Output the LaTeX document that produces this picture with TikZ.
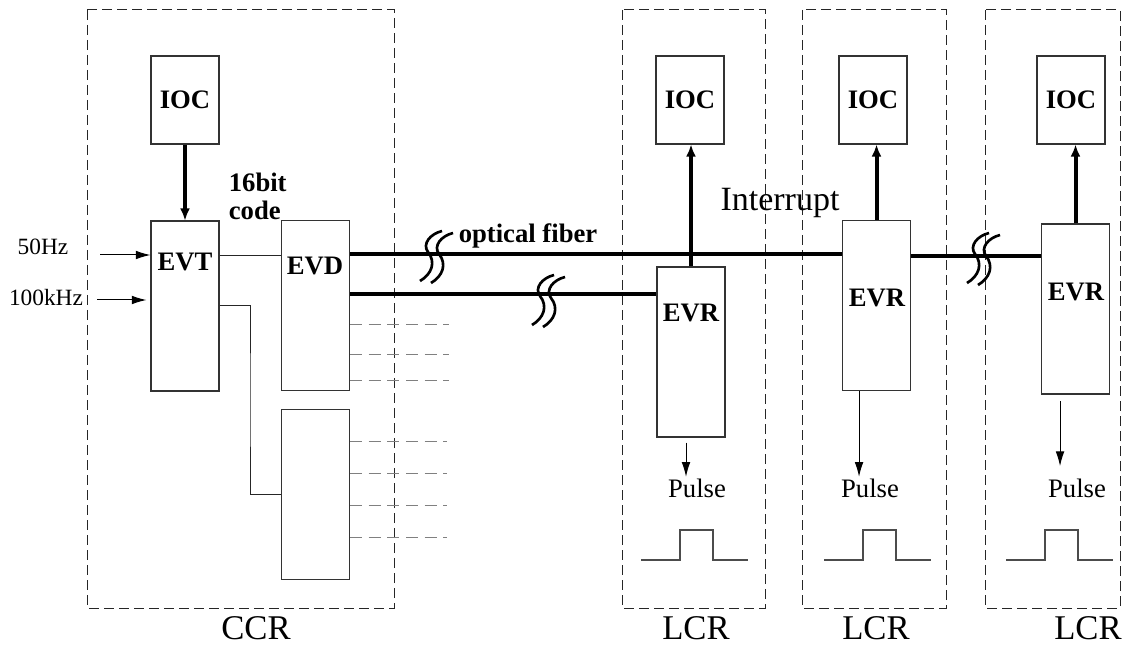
\documentclass[tikz,border=0pt]{standalone}
\usepackage{fontspec}
\setmainfont{Liberation Serif}
\usetikzlibrary{arrows.meta}

\tikzset{every picture/.style={line width=0.75pt}}
\tikzset{
  unit/.style={draw=black!80, line width=0.8pt, inner sep=0pt, minimum width=51pt, font=\fontsize{20}{21}\selectfont\bfseries},
  lbl/.style={inner sep=1pt, font=\fontsize{20}{21}\selectfont\bfseries},
  txt/.style={inner sep=1pt, font=\fontsize{20}{21}\selectfont},
  room/.style={draw=black!85, line width=0.75pt, dash pattern=on 7.5pt off 3.75pt},
  roomlbl/.style={inner sep=1pt, font=\fontsize{26}{26}\selectfont},
  bus/.style={line width=3pt},
  busarrow/.style={line width=3pt, -{Latex[length=9pt,width=7.5pt]}},
  sig/.style={line width=0.75pt, -{Latex[length=11pt,width=6.5pt]}},
  wire/.style={draw=black!85, line width=0.75pt},
  stub/.style={draw=black!50, line width=0.75pt, dash pattern=on 9pt off 5pt},
  wave/.style={draw=black!70, line width=0.9pt},
  brk/.pic={
    \draw[line width=2pt] (-16,-27) .. controls (-4,-20) and (0,-8) .. (-8,2) .. controls (-14,10) and (-6,20) .. (6,23);
    \draw[line width=2pt] (-5,-29) .. controls (7,-22) and (11,-10) .. (3,0) .. controls (-3,8) and (5,18) .. (17,21);
  }
}

\begin{document}
\begin{tikzpicture}[x=0.75pt,y=0.75pt,yscale=-1,xscale=1]
\useasboundingbox (0,0) rectangle (1132,645);

% rooms
\draw[room] (87,10) rectangle (394,608);
\draw[room] (622,10) rectangle (765,608);
\draw[room] (802,10) rectangle (946,608);
\draw[room] (985,10) rectangle (1120,608);

\node[roomlbl] (ccr) at (256,628) {CCR};
\node[roomlbl] (lcr1) at (696,628) {LCR};
\node[roomlbl] (lcr2) at (876,628) {LCR};
\node[roomlbl] (lcr3) at (1088,628) {LCR};

% central units
\node[unit, minimum height=66pt] (ioc0) at (185,100) {IOC};
\node[unit, minimum height=127.5pt] (evt) at (185,306) {};
\node[unit, minimum height=127.5pt] (evd) at (315.5,305.5) {};
\node[unit, minimum height=128pt] (sub) at (315.5,494.5) {};
\node[lbl] (evtl) at (185,262) {EVT};
\node[lbl] (evdl) at (315,266) {EVD};
\node[lbl, align=left, anchor=west] (codel) at (227,196) {16bit\\code};

% local units
\node[unit, minimum height=66pt] (ioc1) at (690,100) {IOC};
\node[unit, minimum height=127.5pt] (evr1) at (691,352) {};
\node[lbl] (evr1l) at (691,313) {EVR};
\node[unit, minimum height=66pt] (ioc2) at (873,100) {IOC};
\node[unit, minimum height=127.5pt] (evr2) at (876.5,305.5) {};
\node[lbl] (evr2l) at (877,298) {EVR};
\node[unit, minimum height=66pt] (ioc3) at (1071,100) {IOC};
\node[unit, minimum height=127.5pt] (evr3) at (1075.5,309) {};
\node[lbl] (evr3l) at (1076,292) {EVR};

% inputs
\node[txt, font=\fontsize{17.5}{18}\selectfont] (hz50) at (43,247) {50Hz};
\node[txt, font=\fontsize{17.5}{18}\selectfont] (hz100) at (46,298) {100kHz};
\coordinate (in1) at (100,255);
\coordinate (in2) at (97,300);
\draw[sig] (in1) -- (in1 -| evt.west);
\draw[sig, shorten >=3pt] (in2) -- (in2 -| evt.west);

% central links
\draw[busarrow] (ioc0.south) -- (evt.north);
\draw[wire] ([yshift=-37.5pt]evt.east) -- ([yshift=-37.5pt]evt.east -| evd.west);
\coordinate (bend) at (250,400);
\draw[wire] (evt.east) -| (bend) |- (sub.west);
\foreach \dy in {14.6,37.1,56.6}
  \draw[stub] ([yshift=\dy pt]evd.east) -- ++(99,0);
\foreach \dy in {-39.4,-15.4,7.9,31.9}
  \draw[stub] ([yshift=\dy pt]sub.east) -- ++(97,0);

% fibers
\coordinate (f1) at ([yshift=-38.6pt]evd.east);
\coordinate (f2) at ([yshift=-8.6pt]evd.east);
\coordinate (f3) at ([yshift=-37.1pt]evr2.east);
\draw[bus] (f1) -- (f1 -| evr2.west);
\draw[bus] (f2) -- (f2 -| evr1.west);
\draw[bus] (f3) -- (f3 -| evr3.west);
\pic at (436,254) {brk};
\pic at (548,298) {brk};
\pic at (983,256) {brk};
\node[lbl] (fiberl) at (528,236) {optical fiber};
\node[txt, font=\fontsize{25.5}{26}\selectfont] (intl) at (780,203) {Interrupt};

% interrupts
\draw[busarrow] (evr1.north) -- (evr1.north |- ioc1.south);
\draw[busarrow] (evr2.north) -- (evr2.north |- ioc2.south);
\draw[busarrow] (evr3.north) -- (evr3.north |- ioc3.south);

% pulses
\node[txt] (pulse1) at (697,488) {Pulse};
\node[txt] (pulse2) at (870,488) {Pulse};
\node[txt] (pulse3) at (1077,488) {Pulse};
\coordinate (p1) at ([xshift=-3.75pt,yshift=3.75pt]evr1.south);
\coordinate (p2) at ([xshift=-13.1pt]evr2.south);
\coordinate (p3) at ([xshift=-11.6pt,yshift=5pt]evr3.south);
\draw[sig] (p1) -- (p1 |- pulse1.north);
\draw[sig] (p2) -- (p2 |- pulse2.north);
\draw[sig, shorten >=8pt] (p3) -- (p3 |- pulse3.north);
\foreach \px in {641,824,1006}
  \draw[wave] (\px,560) -- ++(39,0) -- ++(0,-30) -- ++(33,0) -- ++(0,30) -- ++(35,0);

\end{tikzpicture}
\end{document}
